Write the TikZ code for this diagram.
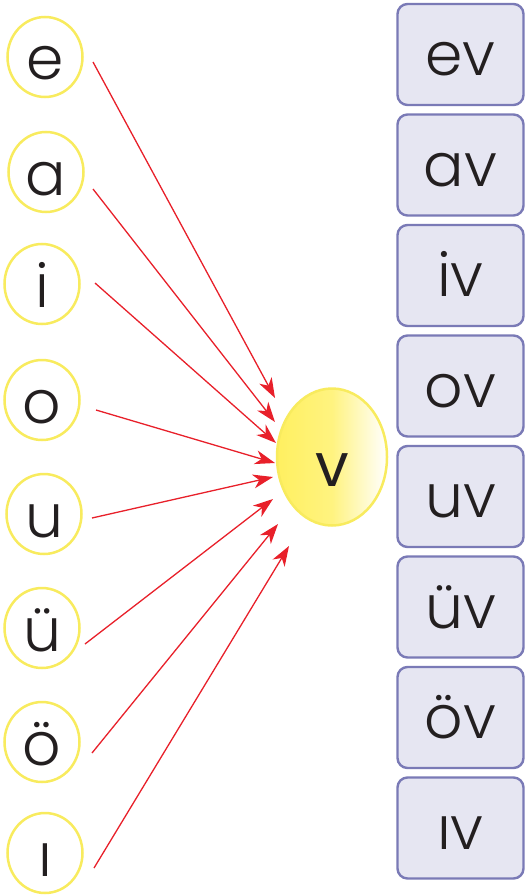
\documentclass[tikz,border=0pt]{standalone}
\usepackage{fontspec}
\setmainfont{Poppins Light}
\newfontfamily\vfont{Poppins}
\usetikzlibrary{arrows.meta,shapes.geometric}
\definecolor{ringyellow}{HTML}{F8EB5E}
\definecolor{fillyellow}{HTML}{FFF060}
\definecolor{boxfill}{HTML}{E6E6F2}
\definecolor{boxline}{HTML}{7A7AB6}
\definecolor{arrowred}{HTML}{E8202A}
\definecolor{inkdark}{HTML}{231F20}
\tikzset{
  x=1pt, y=-1pt,
  letter/.style={ellipse, draw=ringyellow, line width=2.5pt, minimum width=75pt, minimum height=80pt, inner sep=0pt, text=inkdark, font=\fontsize{60}{62}\selectfont, text height=46pt, text depth=0pt},
  sylbox/.style={draw=boxline, fill=boxfill, line width=2.4pt, rounded corners=10pt, minimum width=126pt, minimum height=101pt, inner sep=0pt, text=inkdark, font=\fontsize{60}{62}\selectfont, text height=42pt, text depth=0pt},
  conn/.style={draw=arrowred, line width=1.3pt, -{Stealth[length=20pt, width=14pt, inset=6pt]}},
}
\begin{document}
\begin{tikzpicture}
\useasboundingbox (0,0) rectangle (525,896);
% left letters
\node[letter] (ce) at (45,57) {e};
\node[letter] (ca) at (46,172) {a};
\node[letter] (ci) at (42,284) {i};
\node[letter] (co) at (42,400) {o};
\node[letter] (cu) at (44,514) {u};
\node[letter] (cue) at (42,628) {ü};
\node[letter] (coe) at (42,742) {ö};
\node[letter] (cI) at (45,853) {ı};
% centre
\node[ellipse, draw=ringyellow, line width=2.5pt, minimum width=110pt, minimum height=137pt, inner sep=0pt,
  left color=fillyellow, right color=white, middle color=fillyellow!80!white,
  text=inkdark, font=\vfont\fontsize{60}{62}\selectfont, text height=58pt, text depth=0pt] (v) at (332,457) {v};
% boxes
\node[sylbox] (bev) at (460.5,54.5) {ev};
\node[sylbox] (bav) at (460.5,165) {av};
\node[sylbox] (biv) at (460.5,275.5) {iv};
\node[sylbox] (bov) at (460.5,386) {ov};
\node[sylbox] (buv) at (460.5,496.5) {uv};
\node[sylbox] (buev) at (460.5,607) {üv};
\node[sylbox] (boev) at (460.5,717.5) {öv};
\node[sylbox] (bIv) at (460.5,828) {ıv};
% connector end points
\coordinate (se) at (93,62);   \coordinate (te) at (275,398);
\coordinate (sa) at (93,189);  \coordinate (ta) at (275,422);
\coordinate (si) at (95,283);  \coordinate (ti) at (276,443);
\coordinate (so) at (96,410);  \coordinate (to) at (275,463);
\coordinate (su) at (92,518);  \coordinate (tu) at (273,477);
\coordinate (sue) at (85,644); \coordinate (tue) at (273,499);
\coordinate (soe) at (92,753); \coordinate (toe) at (278,524);
\coordinate (sI) at (94,868);  \coordinate (tI) at (289,546);
\foreach \s/\t in {se/te, sa/ta, si/ti, so/to, su/tu, sue/tue, soe/toe, sI/tI}
  \draw[conn] (\s) -- (\t);
\end{tikzpicture}
\end{document}
